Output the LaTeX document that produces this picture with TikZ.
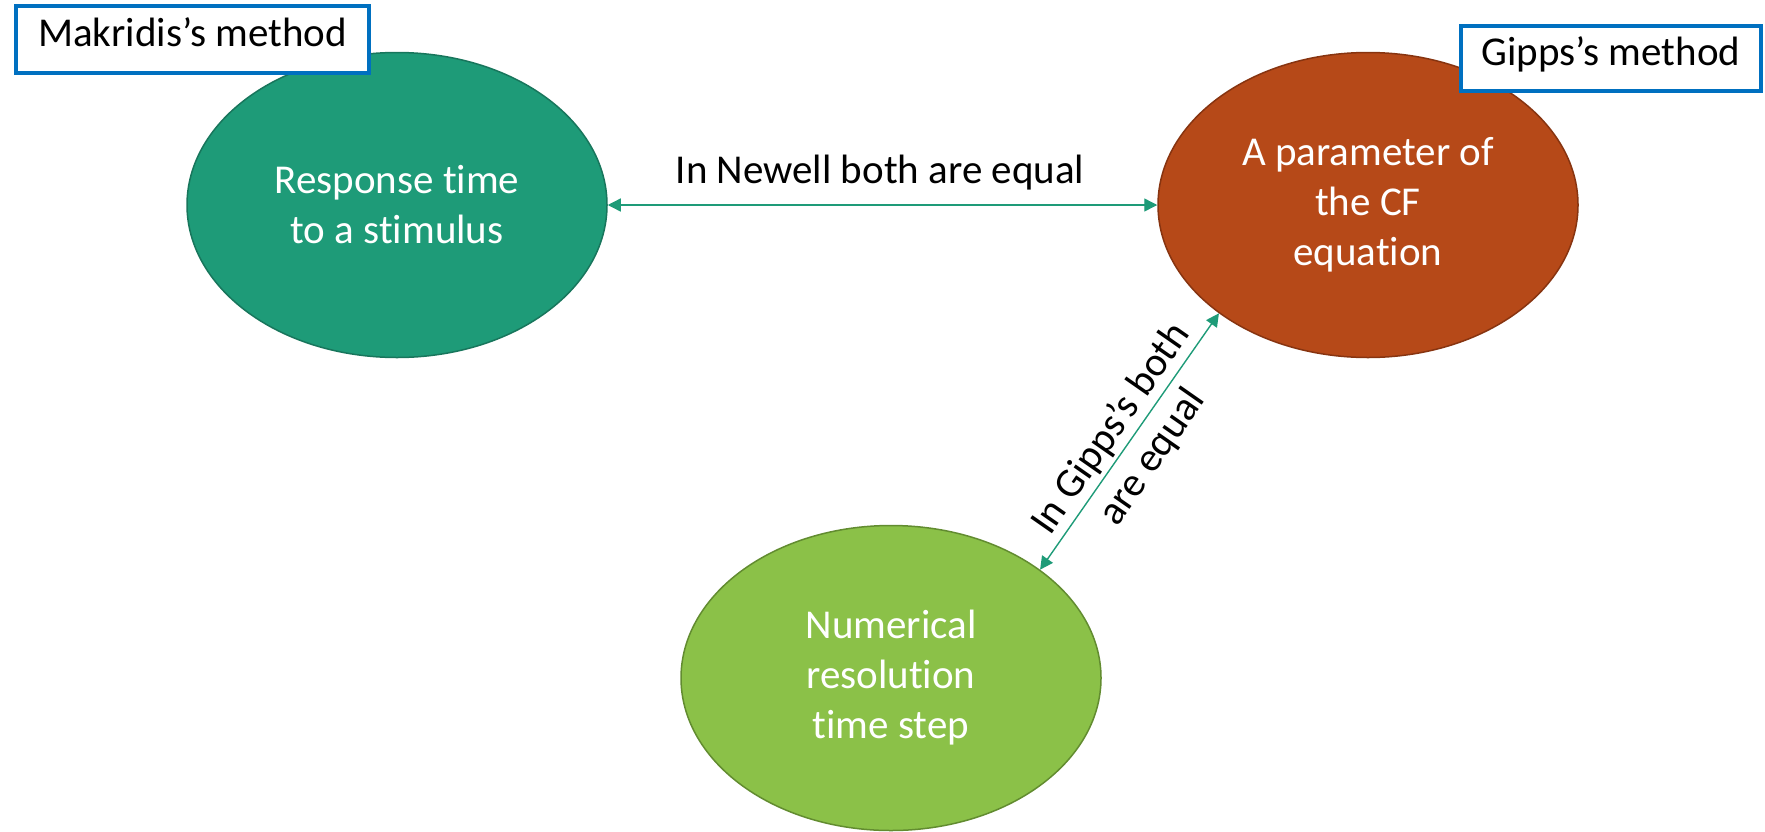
\documentclass[tikz,border=0pt]{standalone}
\usepackage{fontspec}
\setmainfont{Carlito}[Ligatures=NoCommon]
\usetikzlibrary{shapes.geometric,arrows.meta}
\definecolor{tealfill}{RGB}{30,155,120}
\definecolor{tealedge}{RGB}{24,118,92}
\definecolor{rustfill}{RGB}{182,73,24}
\definecolor{rustedge}{RGB}{135,52,16}
\definecolor{lgfill}{RGB}{139,193,72}
\definecolor{lgedge}{RGB}{98,140,48}
\definecolor{boxblue}{RGB}{0,112,192}
\begin{document}
\begin{tikzpicture}[x=0.5pt,y=-0.5pt,
  bubble/.style={ellipse, minimum width=210pt, minimum height=152.5pt, inner sep=0pt,
    text=white, align=center, font=\fontsize{20.5}{25}\selectfont, line width=0.75pt},
  conn/.style={draw=tealfill, line width=0.7pt,
    {Triangle[length=6.5pt,width=6.5pt]}-{Triangle[length=6.5pt,width=6.5pt]}},
  methodbox/.style={draw=boxblue, line width=2pt, fill=white, inner sep=0pt,
    text height=0.75em, text depth=0.1em, font=\fontsize{20.5}{25}\selectfont},
  lbl/.style={font=\fontsize{20.5}{25}\selectfont}]
\useasboundingbox (0,0) rectangle (1765,831);
\node[bubble, fill=tealfill, draw=tealedge] (resp) at (397,205) {Response time\\to a stimulus};
\node[bubble, fill=rustfill, draw=rustedge] (param) at (1368,205) {A parameter of\\the CF\\equation};
\node[bubble, fill=lgfill, draw=lgedge] (num) at (891,678) {Numerical\\resolution\\time step};
\node[methodbox, minimum width=176.5pt, minimum height=33.5pt] (mak) at (192.5,39.5) {Makridis’s method};
\node[methodbox, minimum width=150pt, minimum height=32.5pt] (gip) at (1611,58.5) {Gipps’s method};
\draw[conn] (resp.east) -- (param.west);
\node[lbl, anchor=base] (newell) at (880,183) {In Newell both are equal};
\draw[conn] (num.36) -- (param.216)
  node[midway, sloped, lbl, align=center, yshift=-1.5pt] (gippslbl) {In Gipps’s both\\are equal};
\end{tikzpicture}
\end{document}
